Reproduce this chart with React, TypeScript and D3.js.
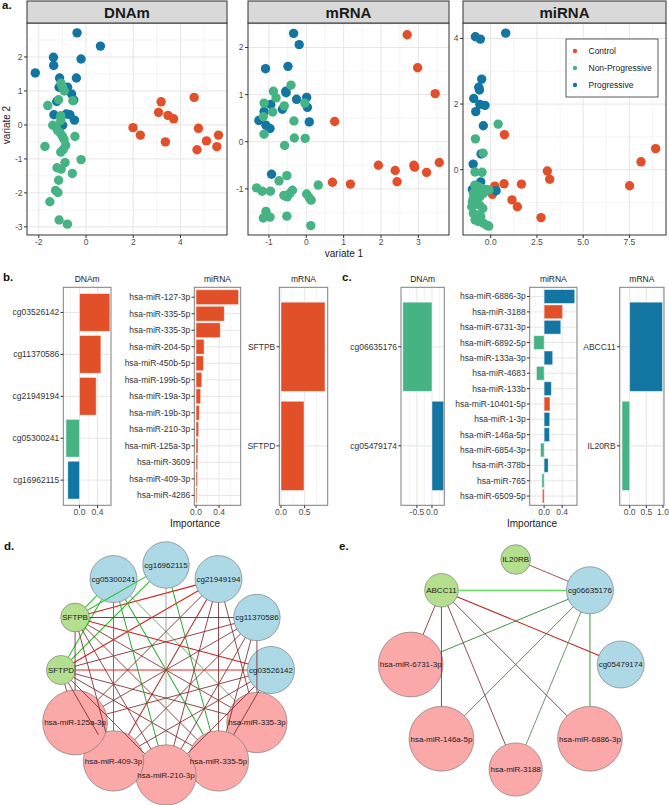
import React from "react";
import * as d3 from "d3";

const W = 669;
const H = 805;
const FONT = "'Liberation Sans', Arial, Helvetica, sans-serif";

const GROUPS = ["Control", "Non-Progressive", "Progressive"];
const GROUP_COLORS = ["#E2502A", "#46B384", "#1376A2"];
const groupColor = d3.scaleOrdinal<string, string>().domain(GROUPS).range(GROUP_COLORS);

// ---------- a. sample plots ----------
const dnamControl = [[1.99, -0.08], [2.30, -0.30], [3.18, 0.68], [3.07, 0.37], [3.47, 0.28], [3.71, 0.18], [3.36, -0.50], [4.58, 0.81], [4.76, -0.10], [5.61, -0.30], [5.10, -0.47], [4.70, -0.73], [5.54, -0.64]];
const dnamProg = [[-0.38, 2.71], [0.61, 2.32], [-1.38, 1.99], [-0.21, 1.94], [-1.37, 1.75], [-2.15, 1.53], [-1.12, 1.38], [-0.41, 1.38], [-1.14, 1.11], [-0.78, 1.11], [-0.61, 0.91], [-1.24, 0.69], [-0.52, 0.73], [-1.36, 0.30], [-0.83, 0.32], [-0.68, 0.30], [-0.49, 0.14], [-0.99, -0.01]];
const dnamNonProg = [[-1.06, 1.23], [-0.99, 1.11], [-0.92, 1.0], [-1.16, 0.74], [-0.56, 0.71], [-1.62, 0.57], [-1.07, 0.27], [-1.07, 0.13], [-1.41, -0.01], [-1.27, -0.04], [-1.21, -0.16], [-1.10, -0.23], [-1.0, -0.33], [-0.93, -0.43], [-0.47, -0.34], [-1.74, -0.63], [-0.86, -0.60], [-0.96, -0.72], [-1.07, -0.80], [-0.21, -1.02], [-0.89, -1.11], [-1.23, -1.26], [-1.05, -1.30], [-0.58, -1.43], [-1.16, -1.63], [-1.29, -1.93], [-1.19, -1.99], [-1.53, -2.26], [-1.14, -2.80], [-0.79, -2.92]];

const mrnaControl = [[2.70, 2.27], [2.98, 1.57], [3.45, 1.02], [0.76, 0.43], [1.93, -0.50], [2.38, -0.61], [2.88, -0.50], [2.90, -0.54], [3.56, -0.44], [3.22, -0.65], [2.43, -0.85], [0.70, -0.86], [1.18, -0.90]];
const mrnaProg = [[-0.34, 2.30], [-0.19, 2.06], [-1.09, 1.55], [-0.49, 1.60], [-0.55, 1.07], [-0.54, 1.04], [-0.26, 0.90], [0.01, 0.94], [0.03, 0.73], [-0.95, 0.79], [-1.13, 0.64], [-0.64, 0.69], [-1.27, 0.45], [-1.08, 0.35], [-0.97, 0.28], [0.08, 0.42], [-0.93, -0.69]];
const mrnaNonProg = [[-0.41, 1.20], [-0.88, 1.07], [-0.81, 0.93], [-1.13, 0.82], [-0.59, 0.76], [-0.90, 0.63], [-1.15, 0.53], [-0.04, 0.82], [-0.33, 0.44], [-1.13, 0.16], [-0.32, 0.08], [-0.03, 0.07], [-0.58, -0.08], [-0.52, -0.72], [-0.73, -0.83], [-1.33, -0.98], [-1.18, -1.05], [-0.96, -1.05], [-0.60, -1.14], [-0.51, -1.17], [-0.44, -1.10], [-0.37, -1.03], [0.01, -1.11], [0.08, -1.19], [0.13, -1.24], [0.32, -0.92], [-1.08, -1.48], [-1.15, -1.62], [-0.97, -1.60], [-0.52, -1.58], [0.12, -1.78]];

const mirnaControl = [[0.74, 1.07], [0.22, -0.50], [0.09, -0.75], [0.72, -0.43], [1.66, -0.44], [1.15, -0.92], [1.44, -1.13], [2.72, -1.46], [3.06, -0.04], [3.19, -0.29], [7.51, -0.49], [8.13, 0.24], [8.92, 0.64]];
const mirnaProg = [[-0.83, 4.05], [-0.56, 3.98], [0.81, 4.16], [-0.49, 2.76], [-0.65, 2.51], [-0.61, 2.43], [-0.92, 2.17], [-0.59, 1.99], [-0.31, 1.96], [-0.81, 1.77], [-0.40, 1.34], [-0.52, 0.48], [-0.95, 0.17], [-0.54, -0.37], [0.29, -0.64], [-0.99, -0.60]];
const mirnaNonProg = [[0.40, 1.39], [-0.83, 0.94], [-0.41, 0.50], [-0.85, -0.07], [-0.47, -0.08], [-0.86, -0.47], [-0.67, -0.52], [-0.49, -0.57], [-0.25, -0.60], [-0.09, -0.62], [-0.94, -0.72], [-0.76, -0.77], [-0.58, -0.82], [-0.40, -0.72], [-0.99, -0.97], [-0.79, -1.03], [-0.61, -1.08], [-0.43, -1.18], [-0.94, -1.33], [-0.72, -1.38], [-0.54, -1.43], [-0.85, -1.53], [-0.67, -1.58], [-0.40, -1.63], [-0.22, -1.69], [-0.11, -1.72], [-1.03, -1.13], [-0.79, -0.62], [-0.94, -0.87]];

// ---------- b. / c. loadings ----------
const bDnamNames = ["cg03526142", "cg11370586", "cg21949194", "cg05300241", "cg16962115"];
const bDnamValues = [0.675, 0.475, 0.37, -0.30, -0.26];
const bDnamGroups = ["Control", "Control", "Control", "Non-Progressive", "Progressive"];

const bMirnaNames = ["hsa-miR-127-3p", "hsa-miR-335-5p", "hsa-miR-335-3p", "hsa-miR-204-5p", "hsa-miR-450b-5p", "hsa-miR-199b-5p", "hsa-miR-19a-3p", "hsa-miR-19b-3p", "hsa-miR-210-3p", "hsa-miR-125a-3p", "hsa-miR-3609", "hsa-miR-409-3p", "hsa-miR-4286"];
const bMirnaValues = [0.738, 0.49, 0.42, 0.14, 0.13, 0.10, 0.08, 0.057, 0.046, 0.034, 0.03, 0.027, 0.017];
const bMirnaGroups = bMirnaNames.map(() => "Control");

const bMrnaNames = ["SFTPB", "SFTPD"];
const bMrnaValues = [0.93, 0.486];
const bMrnaGroups = ["Control", "Control"];

const cDnamNames = ["cg06635176", "cg05479174"];
const cDnamValues = [-0.97, 0.39];
const cDnamGroups = ["Non-Progressive", "Progressive"];

const cMirnaNames = ["hsa-miR-6886-3p", "hsa-miR-3188", "hsa-miR-6731-3p", "hsa-miR-6892-5p", "hsa-miR-133a-3p", "hsa-miR-4683", "hsa-miR-133b", "hsa-miR-10401-5p", "hsa-miR-1-3p", "hsa-miR-146a-5p", "hsa-miR-6854-3p", "hsa-miR-378b", "hsa-miR-765", "hsa-miR-6509-5p"];
const cMirnaValues = [0.68, 0.41, 0.37, -0.23, 0.19, -0.17, 0.16, 0.13, 0.125, 0.12, -0.08, 0.09, -0.05, -0.04];
const cMirnaGroups = ["Progressive", "Control", "Progressive", "Non-Progressive", "Progressive", "Non-Progressive", "Progressive", "Control", "Progressive", "Progressive", "Non-Progressive", "Progressive", "Non-Progressive", "Control"];

const cMrnaNames = ["ABCC11", "IL20RB"];
const cMrnaValues = [0.985, -0.23];
const cMrnaGroups = ["Progressive", "Non-Progressive"];

// ---------- d. / e. networks ----------
const dNodes = ["cg16962115", "cg21949194", "cg11370586", "cg03526142", "hsa-miR-335-3p", "hsa-miR-335-5p", "hsa-miR-210-3p", "hsa-miR-409-3p", "hsa-miR-125a-3p", "SFTPD", "SFTPB", "cg05300241"];
const dEdges: [string, string, number][] = [
  ["SFTPB", "cg05300241", -0.85], ["SFTPB", "cg16962115", -0.8], ["SFTPD", "cg05300241", -0.8], ["SFTPD", "cg16962115", -0.75],
  ["SFTPB", "cg21949194", 0.85], ["SFTPB", "cg11370586", 0.75], ["SFTPB", "cg03526142", 0.8],
  ["SFTPD", "cg21949194", 0.85], ["SFTPD", "cg03526142", 0.95], ["SFTPD", "cg11370586", 0.5],
  ["SFTPB", "hsa-miR-125a-3p", 0.45], ["SFTPB", "hsa-miR-409-3p", 0.48], ["SFTPB", "hsa-miR-210-3p", 0.5], ["SFTPB", "hsa-miR-335-5p", 0.5], ["SFTPB", "hsa-miR-335-3p", 0.48],
  ["SFTPD", "hsa-miR-125a-3p", 0.45], ["SFTPD", "hsa-miR-409-3p", 0.48], ["SFTPD", "hsa-miR-210-3p", 0.5], ["SFTPD", "hsa-miR-335-5p", 0.52], ["SFTPD", "hsa-miR-335-3p", 0.48],
  ["cg05300241", "hsa-miR-409-3p", -0.6], ["cg05300241", "hsa-miR-210-3p", -0.65], ["cg05300241", "hsa-miR-335-5p", -0.7], ["cg05300241", "hsa-miR-335-3p", -0.4],
  ["cg16962115", "hsa-miR-210-3p", -0.3], ["cg16962115", "hsa-miR-335-5p", -0.65],
  ["cg21949194", "hsa-miR-125a-3p", 0.5], ["cg21949194", "hsa-miR-409-3p", 0.7], ["cg21949194", "hsa-miR-210-3p", 0.5], ["cg21949194", "hsa-miR-335-5p", 0.45], ["cg21949194", "hsa-miR-335-3p", 0.45],
  ["cg11370586", "hsa-miR-125a-3p", 0.45], ["cg11370586", "hsa-miR-409-3p", 0.5], ["cg11370586", "hsa-miR-210-3p", 0.48], ["cg11370586", "hsa-miR-335-5p", 0.45], ["cg11370586", "hsa-miR-335-3p", 0.45],
  ["cg03526142", "hsa-miR-125a-3p", 0.48], ["cg03526142", "hsa-miR-409-3p", 0.5], ["cg03526142", "hsa-miR-210-3p", 0.48], ["cg03526142", "hsa-miR-335-5p", 0.45],
];

const eNodes = ["IL20RB", "cg06635176", "cg05479174", "hsa-miR-6886-3p", "hsa-miR-3188", "hsa-miR-146a-5p", "hsa-miR-6731-3p", "ABCC11"];
const eEdges: [string, string, number][] = [
  ["IL20RB", "cg06635176", 0.42], ["ABCC11", "cg06635176", -0.92], ["ABCC11", "cg05479174", 0.72],
  ["ABCC11", "hsa-miR-6731-3p", 0.48], ["ABCC11", "hsa-miR-146a-5p", 0.46], ["ABCC11", "hsa-miR-3188", 0.44], ["ABCC11", "hsa-miR-6886-3p", 0.46],
  ["cg06635176", "hsa-miR-6731-3p", -0.5], ["cg06635176", "hsa-miR-146a-5p", -0.5], ["cg06635176", "hsa-miR-3188", -0.42], ["cg06635176", "hsa-miR-6886-3p", -0.62],
];

// ---------- helpers ----------
function minorTicks(ticks: number[], domain: number[]) {
  const step = ticks[1] - ticks[0];
  const out: number[] = [];
  for (let i = -1; i <= ticks.length + 2; i++) {
    const v = ticks[0] + step * (i + 0.5);
    if (v > domain[0] && v < domain[1]) out.push(v);
  }
  return out;
}

const A_STRIP = 1;
const A_TOP = 23;
const A_BOTTOM = 235;

function ScatterPanel({ title, left, right, xDomain, yDomain, xTicks, xTickLabels, yTicks, control, nonProg, prog, legend }: any) {
  const x = d3.scaleLinear().domain(xDomain).range([left, right]);
  const y = d3.scaleLinear().domain(yDomain).range([A_BOTTOM, A_TOP]);
  const series = [
    { g: "Control", pts: control },
    { g: "Progressive", pts: prog },
    { g: "Non-Progressive", pts: nonProg },
  ];
  return (
    <g>
      <rect x={left} y={A_TOP} width={right - left} height={A_BOTTOM - A_TOP} fill="#fff" />
      {minorTicks(xTicks, xDomain).map((v) => (
        <line key={"mx" + v} x1={x(v)} x2={x(v)} y1={A_TOP} y2={A_BOTTOM} stroke="#EFEFEF" strokeWidth={0.6} />
      ))}
      {minorTicks(yTicks, yDomain).map((v) => (
        <line key={"my" + v} y1={y(v)} y2={y(v)} x1={left} x2={right} stroke="#EFEFEF" strokeWidth={0.6} />
      ))}
      {xTicks.map((v: number) => (
        <line key={"gx" + v} x1={x(v)} x2={x(v)} y1={A_TOP} y2={A_BOTTOM} stroke="#E6E6E6" strokeWidth={1} />
      ))}
      {yTicks.map((v: number) => (
        <line key={"gy" + v} y1={y(v)} y2={y(v)} x1={left} x2={right} stroke="#E6E6E6" strokeWidth={1} />
      ))}
      {series.map((s) =>
        s.pts.map((p: number[], i: number) => (
          <circle key={s.g + i} cx={x(p[0])} cy={y(p[1])} r={4.7} fill={groupColor(s.g)} />
        ))
      )}
      <rect x={left} y={A_TOP} width={right - left} height={A_BOTTOM - A_TOP} fill="none" stroke="#333" strokeWidth={1} />
      <rect x={left} y={A_STRIP} width={right - left} height={A_TOP - A_STRIP} fill="#D9D9D9" stroke="#333" strokeWidth={1} />
      <text x={(left + right) / 2} y={A_TOP - 5.5} textAnchor="middle" fontSize={15} fontWeight="bold" fill="#1A1A1A">{title}</text>
      {xTicks.map((v: number, i: number) => (
        <g key={"tx" + v}>
          <line x1={x(v)} x2={x(v)} y1={A_BOTTOM} y2={A_BOTTOM + 3} stroke="#333" />
          <text x={x(v)} y={A_BOTTOM + 9.8} textAnchor="middle" fontSize={8.5} fill="#4D4D4D">{xTickLabels[i]}</text>
        </g>
      ))}
      {yTicks.map((v: number) => (
        <g key={"ty" + v}>
          <line x1={left - 3} x2={left} y1={y(v)} y2={y(v)} stroke="#333" />
          <text x={left - 4.5} y={y(v)} dy="0.35em" textAnchor="end" fontSize={8.5} fill="#4D4D4D">{v}</text>
        </g>
      ))}
      {legend && (
        <g>
          <rect x={566} y={39} width={92} height={58} fill="#fff" stroke="#333" strokeWidth={0.8} />
          {GROUPS.map((g, i) => (
            <g key={g}>
              <circle cx={575} cy={51 + i * 17} r={2.2} fill={groupColor(g)} />
              <text x={588.5} y={51 + i * 17} dy="0.35em" fontSize={8.5} fill="#1A1A1A">{g}</text>
            </g>
          ))}
        </g>
      )}
    </g>
  );
}

const B_TOP = 287.3;
const B_BOTTOM = 505.3;

function LoadingPanel({ title, left, right, domain, ticks, tickLabels, names, values, groups }: any) {
  const x = d3.scaleLinear().domain(domain).range([left, right]);
  const y = d3.scalePoint<string>().domain(names).range([B_TOP, B_BOTTOM]).padding(0.6);
  const bh = y.step() * 0.9;
  return (
    <g>
      {minorTicks(ticks.length > 1 ? ticks : [ticks[0], ticks[0] + 0.4], domain).map((v) => (
        <line key={"m" + v} x1={x(v)} x2={x(v)} y1={B_TOP} y2={B_BOTTOM} stroke="#EFEFEF" strokeWidth={0.6} />
      ))}
      {ticks.map((v: number) => (
        <line key={"g" + v} x1={x(v)} x2={x(v)} y1={B_TOP} y2={B_BOTTOM} stroke="#E6E6E6" strokeWidth={1} />
      ))}
      {names.map((n: string) => (
        <line key={"h" + n} x1={left} x2={right} y1={y(n)} y2={y(n)} stroke="#E6E6E6" strokeWidth={1} />
      ))}
      {names.map((n: string, i: number) => (
        <rect
          key={"b" + n}
          x={Math.min(x(0), x(values[i]))}
          y={(y(n) as number) - bh / 2}
          width={Math.abs(x(values[i]) - x(0))}
          height={bh}
          fill={groupColor(groups[i])}
          stroke="#fff"
          strokeOpacity={0.55}
          strokeWidth={0.8}
        />
      ))}
      <rect x={left} y={B_TOP} width={right - left} height={B_BOTTOM - B_TOP} fill="none" stroke="#7F7F7F" strokeWidth={1} />
      <text x={(left + right) / 2} y={282} textAnchor="middle" fontSize={8.5} fill="#1A1A1A">{title}</text>
      {names.map((n: string) => (
        <g key={"l" + n}>
          <line x1={left - 2.8} x2={left} y1={y(n)} y2={y(n)} stroke="#333" />
          <text x={left - 4} y={y(n)} dy="0.35em" textAnchor="end" fontSize={8.5} fill="#333">{n}</text>
        </g>
      ))}
      {ticks.map((v: number, i: number) => (
        <g key={"t" + v}>
          <line x1={x(v)} x2={x(v)} y1={B_BOTTOM} y2={B_BOTTOM + 2.8} stroke="#333" />
          <text x={x(v)} y={B_BOTTOM + 9.5} textAnchor="middle" fontSize={8.5} fill="#4D4D4D">{tickLabels[i]}</text>
        </g>
      ))}
    </g>
  );
}

const canvasCtx = typeof document !== "undefined" ? document.createElement("canvas").getContext("2d") : null;
function labelWidth(s: string, size: number) {
  if (!canvasCtx) return s.length * size * 0.55;
  canvasCtx.font = `${size}px 'Liberation Sans', Arial, sans-serif`;
  return canvasCtx.measureText(s).width;
}

function nodeType(n: string) {
  if (n.startsWith("cg")) return "dnam";
  if (n.startsWith("hsa")) return "mirna";
  return "mrna";
}
const NODE_FILL: Record<string, string> = { dnam: "#ADD8E6", mrna: "#B4DF8E", mirna: "#FBA8A8" };

const edgeColor = d3
  .scaleLinear<string>()
  .domain([-1, -0.5, -0.3, 0.3, 0.45, 0.6, 1])
  .range(["#22EE22", "#2F7F2F", "#7E8A7E", "#8A6A6A", "#7A2C2C", "#9A2626", "#FF2020"]);

function Network({ cx, cy, radius, nodes, edges }: any) {
  const angle = d3.scaleLinear().domain([0, nodes.length]).range([Math.PI / 2, Math.PI / 2 - 2 * Math.PI]);
  const info = new Map<string, { x: number; y: number; r: number }>();
  nodes.forEach((n: string, i: number) => {
    const a = angle(i);
    info.set(n, { x: cx + radius * Math.cos(a), y: cy - radius * Math.sin(a), r: labelWidth(n, 8) / 2 + 1.5 });
  });
  return (
    <g>
      {nodes.map((n: string) => {
        const p = info.get(n)!;
        return <circle key={n} cx={p.x} cy={p.y} r={p.r} fill={NODE_FILL[nodeType(n)]} stroke="#6E6E6E" strokeWidth={0.6} />;
      })}
      {edges.map((e: [string, string, number], i: number) => {
        const a = info.get(e[0])!;
        const b = info.get(e[1])!;
        const dx = b.x - a.x;
        const dy = b.y - a.y;
        const len = Math.hypot(dx, dy);
        const ux = dx / len;
        const uy = dy / len;
        return (
          <line
            key={i}
            x1={a.x + ux * a.r}
            y1={a.y + uy * a.r}
            x2={b.x - ux * b.r}
            y2={b.y - uy * b.r}
            stroke={edgeColor(e[2])}
            strokeWidth={0.55 + Math.abs(e[2]) * 0.65}
          />
        );
      })}
      {nodes.map((n: string) => {
        const p = info.get(n)!;
        return (
          <text key={"t" + n} x={p.x} y={p.y} dy="0.35em" textAnchor="middle" fontSize={8} fill="#1A1A1A">{n}</text>
        );
      })}
    </g>
  );
}

export default function App() {
  return (
    <svg width={W} height={H} style={{ position: "absolute", left: 0, top: 0, background: "#fff" }} fontFamily={FONT}>
      <rect width={W} height={H} fill="#fff" />
      {/* a. */}
      <ScatterPanel title="DNAm" left={27} right={227} xDomain={[-2.5, 5.97]} yDomain={[-3.24, 3.0]}
        xTicks={[-2, 0, 2, 4]} xTickLabels={["-2", "0", "2", "4"]} yTicks={[-3, -2, -1, 0, 1, 2]}
        control={dnamControl} nonProg={dnamNonProg} prog={dnamProg} />
      <ScatterPanel title="mRNA" left={248} right={449} xDomain={[-1.56, 3.82]} yDomain={[-1.98, 2.52]}
        xTicks={[-1, 0, 1, 2, 3]} xTickLabels={["-1", "0", "1", "2", "3"]} yTicks={[-1, 0, 1, 2]}
        control={mrnaControl} nonProg={mrnaNonProg} prog={mrnaProg} />
      <ScatterPanel title="miRNA" left={463} right={666} xDomain={[-1.5, 9.48]} yDomain={[-1.99, 4.47]}
        xTicks={[0, 2.5, 5, 7.5]} xTickLabels={["0.0", "2.5", "5.0", "7.5"]} yTicks={[0, 2, 4]}
        control={mirnaControl} nonProg={mirnaNonProg} prog={mirnaProg} legend />
      <text x={344} y={257} textAnchor="middle" fontSize={10} fill="#1A1A1A">variate 1</text>
      <text transform="translate(10,125) rotate(-90)" textAnchor="middle" fontSize={10} fill="#1A1A1A">variate 2</text>

      {/* b. */}
      <LoadingPanel title="DNAm" left={63.3} right={111} domain={[-0.36, 0.7]} ticks={[0, 0.4]} tickLabels={["0.0", "0.4"]}
        names={bDnamNames} values={bDnamValues} groups={bDnamGroups} />
      <LoadingPanel title="miRNA" left={194.3} right={240.7} domain={[-0.03, 0.775]} ticks={[0, 0.4]} tickLabels={["0.0", "0.4"]}
        names={bMirnaNames} values={bMirnaValues} groups={bMirnaGroups} />
      <LoadingPanel title="mRNA" left={279.3} right={327.7} domain={[-0.036, 0.987]} ticks={[0, 0.5]} tickLabels={["0.0", "0.5"]}
        names={bMrnaNames} values={bMrnaValues} groups={bMrnaGroups} />
      <text x={195} y={527} textAnchor="middle" fontSize={10} fill="#1A1A1A">Importance</text>

      {/* c. */}
      <LoadingPanel title="DNAm" left={401} right={444.3} domain={[-1.03, 0.41]} ticks={[-0.5, 0]} tickLabels={["-0.5", "0.0"]}
        names={cDnamNames} values={cDnamValues} groups={cDnamGroups} />
      <LoadingPanel title="miRNA" left={529.7} right={577} domain={[-0.32, 0.73]} ticks={[0, 0.4]} tickLabels={["0.0", "0.4"]}
        names={cMirnaNames} values={cMirnaValues} groups={cMirnaGroups} />
      <LoadingPanel title="mRNA" left={619.7} right={664} domain={[-0.3, 1.03]} ticks={[0, 0.5, 1]} tickLabels={["0.0", "0.5", "1.0"]}
        names={cMrnaNames} values={cMrnaValues} groups={cMrnaGroups} />
      <text x={532} y={527} textAnchor="middle" fontSize={10} fill="#1A1A1A">Importance</text>

      {/* d. / e. */}
      <Network cx={166} cy={670} radius={105} nodes={dNodes} edges={dEdges} />
      <Network cx={515.7} cy={664.5} radius={105} nodes={eNodes} edges={eEdges} />

      <g fontSize={11.5} fontWeight="bold" fill="#111">
        <text x={2} y={9}>a.</text>
        <text x={3} y={281}>b.</text>
        <text x={342} y={281}>c.</text>
        <text x={4} y={550}>d.</text>
        <text x={339} y={550}>e.</text>
      </g>
    </svg>
  );
}
